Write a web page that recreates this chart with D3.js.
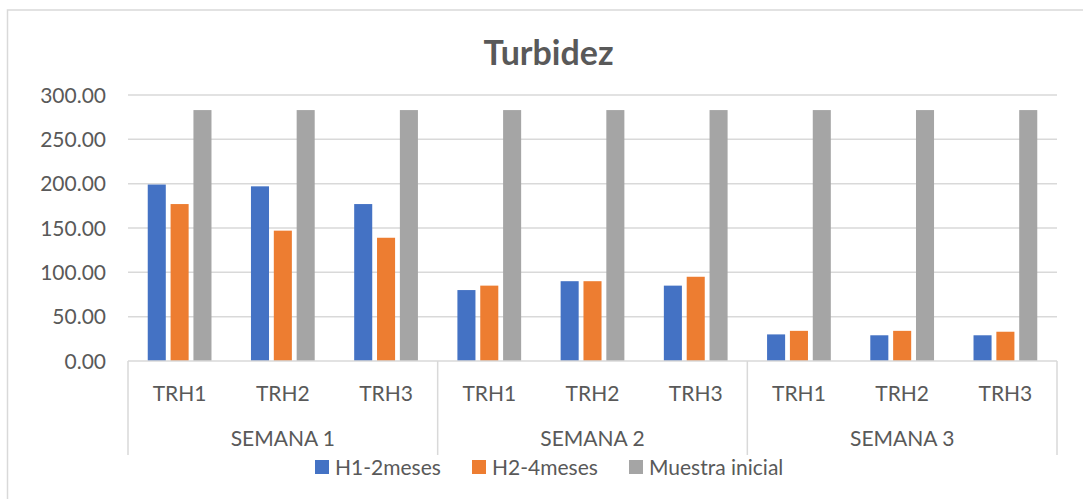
<!DOCTYPE html>
<html>
<head>
<meta charset="utf-8">
<script src="https://cdn.jsdelivr.net/npm/d3@7"></script>
<style>
  body { margin: 0; background: #fff; }
  svg { font-family: Lato, "Open Sans", sans-serif; }
</style>
</head>
<body>
<script>
// data
var semanas = ["SEMANA 1", "SEMANA 2", "SEMANA 3"];
var tratamientos = ["TRH1", "TRH2", "TRH3"];
var series = ["H1-2meses", "H2-4meses", "Muestra inicial"];
var h1 = [199, 197, 177, 80, 90, 85, 30, 29, 29];
var h2 = [177, 147, 139, 85, 90, 95, 34, 34, 33];
var inicial = [283, 283, 283, 283, 283, 283, 283, 283, 283];
var yTicks = [0, 50, 100, 150, 200, 250, 300];
var colores = ["#4472C4", "#ED7D31", "#A5A5A5"];

var W = 1083, H = 499;
var plotLeft = 128, plotRight = 1057, plotTop = 95, plotBottom = 361;

var svg = d3.select("body").append("svg")
    .attr("width", W)
    .attr("height", H);

// chart border (cropped on the right and bottom)
svg.append("rect")
    .attr("x", 7.5).attr("y", 10)
    .attr("width", W + 20).attr("height", H + 20)
    .attr("fill", "none")
    .attr("stroke", "#D9D9D9")
    .attr("stroke-width", 1.5);

// one entry per category (semana x tratamiento)
var cats = [];
semanas.forEach(function(s, i) {
  tratamientos.forEach(function(t, j) {
    var k = i * 3 + j;
    cats.push({key: s + "|" + t, semana: s, trh: t, vals: [h1[k], h2[k], inicial[k]]});
  });
});

var x0 = d3.scaleBand()
    .domain(cats.map(function(d) { return d.key; }))
    .range([plotLeft, plotRight]);

var x1 = d3.scaleBand()
    .domain(series)
    .range([0, x0.bandwidth()])
    .paddingInner(0.21)
    .paddingOuter(0.864);

var y = d3.scaleLinear()
    .domain([0, 300])
    .range([plotBottom, plotTop]);

// gridlines
svg.append("g")
  .selectAll("line")
  .data(yTicks.filter(function(d) { return d > 0; }))
  .enter().append("line")
    .attr("x1", plotLeft).attr("x2", plotRight)
    .attr("y1", function(d) { return y(d); })
    .attr("y2", function(d) { return y(d); })
    .attr("stroke", "#D9D9D9")
    .attr("stroke-width", 1.5);

// y labels
svg.append("g")
  .selectAll("text")
  .data(yTicks)
  .enter().append("text")
    .attr("x", 106)
    .attr("y", function(d) { return y(d); })
    .attr("dy", "0.36em")
    .attr("text-anchor", "end")
    .attr("fill", "#595959")
    .style("font-size", "21px")
    .text(function(d) { return d3.format(".2f")(d); });

// bars
var grupos = svg.append("g")
  .selectAll("g")
  .data(cats)
  .enter().append("g")
    .attr("transform", function(d) { return "translate(" + x0(d.key) + ",0)"; });

grupos.selectAll("rect")
  .data(function(d) { return d.vals.map(function(v, i) { return {serie: series[i], v: v, i: i}; }); })
  .enter().append("rect")
    .attr("x", function(d) { return x1(d.serie); })
    .attr("width", x1.bandwidth())
    .attr("y", function(d) { return y(d.v); })
    .attr("height", function(d) { return y(0) - y(d.v); })
    .attr("fill", function(d) { return colores[d.i]; });

// category axis: baseline + week separators
var ejeBottom = 455;
svg.append("line")
    .attr("x1", plotLeft).attr("x2", plotRight)
    .attr("y1", plotBottom).attr("y2", plotBottom)
    .attr("stroke", "#D9D9D9")
    .attr("stroke-width", 1.5);

var cortes = [0, 3, 6, 9].map(function(k) {
  return k < 9 ? x0(cats[k].key) : x0(cats[8].key) + x0.bandwidth();
});
svg.append("g")
  .selectAll("line")
  .data(cortes)
  .enter().append("line")
    .attr("x1", function(d) { return d; })
    .attr("x2", function(d) { return d; })
    .attr("y1", plotBottom).attr("y2", ejeBottom)
    .attr("stroke", "#D9D9D9")
    .attr("stroke-width", 1.5);

// TRH labels
svg.append("g")
  .selectAll("text")
  .data(cats)
  .enter().append("text")
    .attr("x", function(d) { return x0(d.key) + x0.bandwidth() / 2; })
    .attr("y", 393)
    .attr("dy", "0.36em")
    .attr("text-anchor", "middle")
    .attr("fill", "#595959")
    .style("font-size", "21px")
    .text(function(d) { return d.trh; });

// SEMANA labels
svg.append("g")
  .selectAll("text")
  .data(semanas)
  .enter().append("text")
    .attr("x", function(d, i) { return (cortes[i] + cortes[i + 1]) / 2; })
    .attr("y", 438)
    .attr("dy", "0.36em")
    .attr("text-anchor", "middle")
    .attr("fill", "#595959")
    .style("font-size", "21px")
    .text(function(d) { return d; });

// title
svg.append("text")
    .attr("x", 548.5)
    .attr("y", 65)
    .attr("text-anchor", "middle")
    .attr("fill", "#595959")
    .style("font-size", "34px")
    .style("font-weight", "bold")
    .text("Turbidez");

// legend
var legX = [315, 472, 629];
var leyenda = svg.append("g")
  .selectAll("g")
  .data(series)
  .enter().append("g")
    .attr("transform", function(d, i) { return "translate(" + legX[i] + ",460)"; });

leyenda.append("rect")
    .attr("width", 14).attr("height", 14)
    .attr("fill", function(d, i) { return colores[i]; });

leyenda.append("text")
    .attr("x", 20)
    .attr("y", 7)
    .attr("dy", "0.36em")
    .attr("fill", "#595959")
    .style("font-size", "21px")
    .text(function(d) { return d; });
</script>
</body>
</html>
